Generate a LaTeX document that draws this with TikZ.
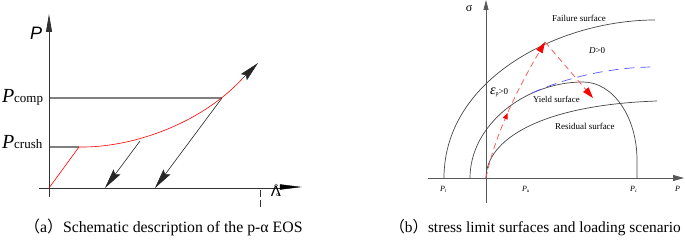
\documentclass[tikz,border=0pt]{standalone}
\usepackage{fontspec}
\setmainfont{Liberation Serif}
\newfontfamily\cjk{Noto Sans CJK SC}
\newfontfamily\arialfont{Liberation Sans}
\usetikzlibrary{arrows.meta,decorations.markings}
\tikzset{
  axisa/.style={draw=black!80, line width=0.8pt},
  axisb/.style={draw=black!65, line width=0.8pt},
  gline/.style={draw=black!50, line width=1.1pt},
  redline/.style={draw=red, line width=0.6pt},
  bigarrow/.style={draw=black!85, line width=0.6pt, -{Stealth[length=20pt,width=8.5pt,inset=3pt]}},
  surf/.style={draw=black!72, line width=0.7pt},
  reddash/.style={draw=red!70, line width=0.7pt, dash pattern=on 6pt off 4pt},
  bluedash/.style={draw=blue!65, line width=0.7pt, dash pattern=on 10pt off 6pt},
  redtip/.style={-{Triangle[length=11pt,width=7pt,fill=red,color=red]}},
  lbl/.style={inner sep=0pt, outer sep=0pt},
}
\begin{document}
\begin{tikzpicture}[x=1pt,y=-1pt]
\useasboundingbox[fill=white] (0,0) rectangle (685,243);

% ---------------- panel (a) ----------------
\coordinate (Oa) at (49,188);
\coordinate (YaB) at (49,197);
\coordinate (YaT) at (49,14);
\coordinate (XaL) at (39,188);
\coordinate (XaR) at (300,188);
\coordinate (Pcr) at (79,147);
\coordinate (PcrL) at (49,147);
\coordinate (PcoL) at (49,98);
\coordinate (C1) at (140,141);
\coordinate (T1) at (105,188);
\coordinate (C2) at (222,98);
\coordinate (T2) at (155,188);
\coordinate (Cend) at (243,78);
\coordinate (T3) at (258,63);

\draw[gline] (PcoL) -- (C2);
\draw[gline] (PcrL) -- (Pcr);
\draw[axisa] (XaL) -- (280,188);
\draw[draw=black, fill=black] (280,184.5) -- (300,187) -- (280,189.5) -- cycle;
\draw[axisa, -{Triangle[length=18pt,width=6pt]}] (YaB) -- (YaT);

\draw[redline] (Oa) -- (Pcr);
\draw[redline] (Pcr) .. controls (130,148) and (200,125) .. (Cend);

\draw[bigarrow] (C1) -- (T1);
\draw[bigarrow] (C2) -- (T2);
\draw[bigarrow] (Cend) -- (T3);

\draw[draw=black!80, line width=0.7pt, dash pattern=on 7pt off 3pt] (260,190) -- (260,207);
\draw[draw=black!70, line width=0.5pt] (276,185.5) circle (1.4pt);
\node[lbl, anchor=north] (lam) at (276,186.5) {\arialfont\fontsize{15}{15}\selectfont Λ\llap{\raisebox{0.5pt}{\rmfamily\fontsize{6}{6}\selectfont α\hspace{1.6pt}}}};

\node[lbl, anchor=base west] (lP) at (30,40) {\arialfont\itshape\fontsize{18}{18}\selectfont P};
\node[lbl, anchor=base west] (lPcomp) at (2,103) {\fontsize{20}{20}\selectfont\textit{P}\fontsize{13}{13}\selectfont comp};
\node[lbl, anchor=base west] (lPcrush) at (2,148) {\fontsize{20}{20}\selectfont\textit{P}\fontsize{13}{13}\selectfont crush};

\node[lbl, anchor=base west] (capa) at (24.4,232) {\fontsize{15.8}{16}\selectfont{\cjk （}a{\cjk ）}Schematic description of the p-α EOS};

% ---------------- panel (b) ----------------
\coordinate (YbB) at (486,203);
\coordinate (YbT) at (486,0);
\coordinate (XbL) at (428,178);
\coordinate (XbR) at (684,178);
\coordinate (Ob) at (486,178);
\coordinate (Apex) at (545,42);
\coordinate (Dtip) at (593,98);

\draw[axisb, -{Triangle[length=10pt,width=5pt]}] (YbB) -- (YbT);
\draw[axisb, -{Triangle[length=11pt,width=6pt]}] (XbL) -- (XbR);

\draw[surf] (444,178) .. controls (444,78) and (560,20) .. (655,20);
\draw[surf] (470,178) .. controls (470,125) and (525,82) .. (583,82)
            .. controls (613,82) and (637,117) .. (637,160) -- (637,178);
\draw[surf] (Ob) .. controls (486,140) and (540,105) .. (657,101);
\draw[bluedash] (532,93) .. controls (565,78) and (610,67) .. (655,67);

\draw[reddash, redtip, postaction={decorate},
      decoration={markings, mark=at position 0.46 with {\arrow{Triangle[length=6pt,width=5pt,fill=red,color=red]}}}]
      (Ob) .. controls (496,130) and (520,85) .. (Apex);
\draw[reddash, redtip] (Apex) -- (Dtip);

\node[lbl] (sig) at (469,8) {\fontsize{12}{12}\selectfont σ};
\node[lbl, anchor=base] (lfail) at (579,21.5) {\fontsize{9}{9}\selectfont Failure surface};
\node[lbl, anchor=base west] (lyield) at (533,103) {\fontsize{8.8}{9}\selectfont Yield surface};
\node[lbl, anchor=base west] (lres) at (555,129) {\fontsize{9}{9}\selectfont Residual surface};
\node[lbl, anchor=base west] (lD) at (589,54) {\fontsize{9}{9}\selectfont\textit{D}>0};
\node[lbl, anchor=base west] (leps) at (490,95) {{\fontsize{14}{14}\selectfont\textit{ε}}\raisebox{-1pt}{\fontsize{6}{6}\selectfont p}{\fontsize{9}{9}\selectfont >0}};
\node[lbl, anchor=base west] (lPt) at (440,191) {\fontsize{8}{8}\selectfont\textit{P}\raisebox{-1.5pt}{\fontsize{5}{5}\selectfont\textit{t}}};
\node[lbl, anchor=base west] (lPu) at (522,191) {\fontsize{8}{8}\selectfont\textit{P}\raisebox{-1.5pt}{\fontsize{5}{5}\selectfont\textit{u}}};
\node[lbl, anchor=base west] (lPc) at (630,191) {\fontsize{8}{8}\selectfont\textit{P}\raisebox{-1.5pt}{\fontsize{5}{5}\selectfont\textit{c}}};
\node[lbl, anchor=base west] (lPb) at (675,191) {\fontsize{8}{8}\selectfont\textit{P}};

\node[lbl, anchor=base west] (capb) at (389.5,232) {\fontsize{15.4}{16}\selectfont{\cjk （}b{\cjk ）}stress limit surfaces and loading scenario};
\end{tikzpicture}
\end{document}
